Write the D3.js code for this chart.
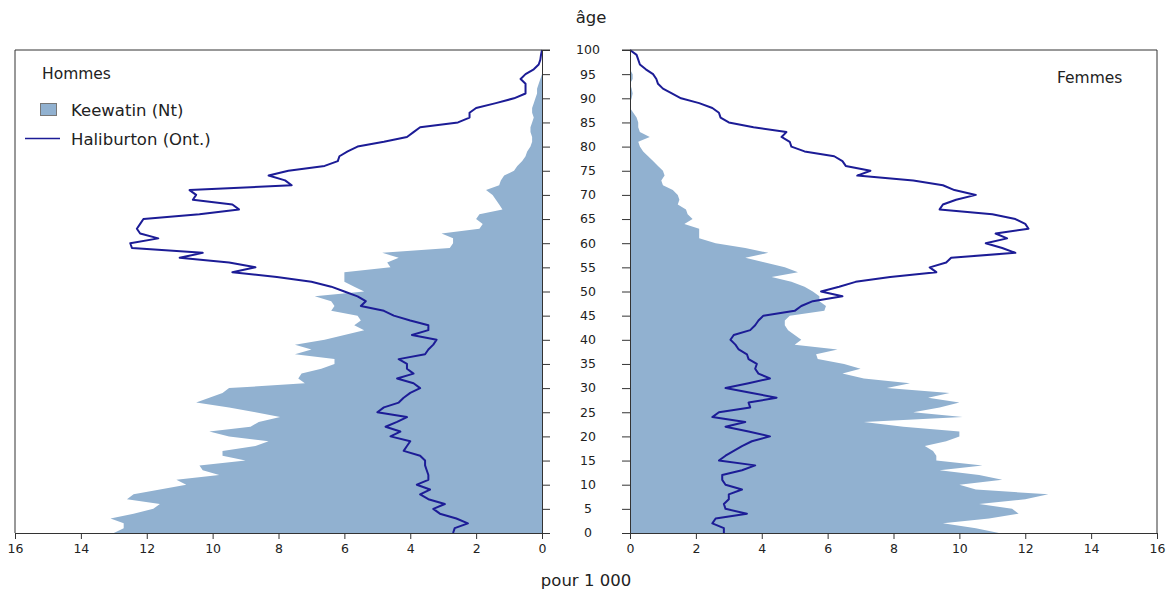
<!DOCTYPE html>
<html><head><meta charset="utf-8">
<script src="https://cdn.jsdelivr.net/npm/d3@7"></script>
<style>
body{margin:0;background:#fff;}
svg{display:block;font-family:"DejaVu Sans",Verdana,sans-serif;}
</style></head>
<body>
<svg id="c" width="1167" height="590"></svg>
<script>
// Ages 0..100, values per 1 000
const ages = d3.range(0, 101);
const ageTicks = d3.range(0, 101, 5);
const valueTicks = [0, 2, 4, 6, 8, 10, 12, 14, 16];

const keewatinHommes = [13.0,12.7,12.7,13.1,12.4,11.8,11.6,12.6,12.4,11.6,
 10.8,11.1,9.8,10.3,10.4,9.0,9.7,9.7,8.7,8.3,
 9.5,10.1,8.85,8.6,7.95,8.7,9.5,10.5,10.1,9.7,
 9.5,7.2,7.4,7.3,6.7,6.3,6.3,7.5,7.0,7.5,
 6.6,6.0,5.4,5.7,5.5,5.6,6.4,6.3,6.4,6.9,
 5.4,5.7,6.0,6.0,6.0,4.6,4.7,4.35,4.85,2.8,
 2.7,2.7,3.05,1.9,1.8,2.0,1.9,1.2,1.3,1.4,
 1.5,1.7,1.3,1.25,1.15,0.85,0.75,0.6,0.5,0.45,
 0.35,0.3,0.3,0.35,0.35,0.3,0.25,0.3,0.3,0.25,
 0.2,0.15,0.15,0.1,0.05,0,0,0,0,0,0];

const haliburtonHommes = [2.7,2.65,2.25,2.6,3.1,3.3,2.95,3.45,3.7,3.4,
 3.8,3.45,3.45,3.5,3.55,3.55,3.7,4.2,4.1,4.0,
 4.6,4.3,4.75,4.4,4.1,5.0,4.8,4.35,4.2,4.0,
 3.7,3.9,4.4,3.9,4.1,4.1,4.35,3.55,3.45,3.3,
 3.2,3.95,3.45,3.45,4.0,4.5,4.8,5.5,5.35,5.6,
 6.0,6.4,7.0,8.05,9.4,8.7,9.5,11.0,10.3,12.45,
 12.5,11.65,12.2,12.3,12.2,12.1,10.4,9.2,9.4,10.6,
 10.5,10.7,7.6,7.8,8.3,7.7,6.6,6.2,6.15,5.9,
 5.6,4.8,4.1,3.9,3.7,2.55,2.2,2.2,2.0,1.4,
 0.85,0.5,0.5,0.5,0.65,0.5,0.25,0.1,0.05,0.03,0];

const keewatinFemmes = [11.2,10.5,9.5,10.9,11.8,11.6,10.6,12.0,12.7,10.5,
 10.0,11.3,10.6,9.4,10.7,9.3,9.3,9.2,8.95,9.6,
 10.0,10.0,8.3,7.1,10.1,8.6,9.4,10.0,9.05,9.7,
 7.8,8.5,7.1,6.45,7.0,6.5,5.7,5.65,6.3,5.0,
 5.2,5.0,4.8,4.7,4.7,4.85,5.9,5.95,5.75,5.75,
 5.55,5.3,4.9,4.3,5.1,4.7,4.1,3.5,4.2,3.5,
 2.6,2.1,2.1,2.1,1.65,1.9,1.75,1.7,1.45,1.5,
 1.45,1.3,1.0,0.95,1.05,1.0,0.85,0.7,0.55,0.4,
 0.3,0.25,0.6,0.3,0.25,0.25,0.2,0.1,0,0,
 0.05,0.08,0.05,0,0.08,0.08,0,0,0,0,0];

const haliburtonFemmes = [2.85,2.85,2.5,2.6,3.55,2.9,2.85,3.0,3.0,3.4,
 2.9,2.8,2.8,3.4,3.8,2.7,2.9,3.15,3.4,3.7,
 4.25,3.6,2.9,3.5,2.5,2.7,3.65,3.6,4.45,3.7,
 2.9,3.6,4.25,3.9,3.8,3.85,3.6,3.55,3.3,3.2,
 3.05,3.15,3.65,3.8,3.9,4.05,5.0,5.2,5.55,6.45,
 5.8,6.35,6.85,7.9,9.3,9.1,9.6,9.75,11.7,11.3,
 10.8,11.45,11.1,12.1,12.0,11.7,11.0,9.4,9.5,9.9,
 10.5,9.85,9.5,8.6,6.9,7.3,6.55,6.45,6.2,5.3,
 4.9,4.85,4.6,4.75,3.75,3.0,2.75,2.7,2.5,2.1,
 1.55,1.27,1.0,0.85,0.8,0.7,0.48,0.3,0.25,0.2,0];

const fillColor = "#91b1d0";
const lineColor = "#1c1c96";
const textColor = "#222";

const svg = d3.select("#c");
const y = d3.scaleLinear().domain([0, 100]).range([533, 50]);
const xL = d3.scaleLinear().domain([0, 16]).range([542, 15]);
const xR = d3.scaleLinear().domain([0, 16]).range([630, 1157]);

function panel(x, kee, hal) {
  const area = d3.area().y(d => y(d.a)).x0(x(0)).x1(d => x(d.v));
  const line = d3.line().y(d => y(d.a)).x(d => x(d.v));
  svg.append("path").datum(ages.map(a => ({a, v: kee[a]})))
    .attr("d", area).attr("fill", fillColor);
  svg.append("path").datum(ages.map(a => ({a, v: hal[a]})))
    .attr("d", line).attr("fill", "none").attr("stroke", lineColor)
    .attr("stroke-width", 2).attr("stroke-linejoin", "round");
}
panel(xL, keewatinHommes, haliburtonHommes);
panel(xR, keewatinFemmes, haliburtonFemmes);

// frames
const frame = "#333";
svg.append("path").attr("d", `M${xL(0)+8},${y(100)}H${xL(16)}V${y(0)}`)
  .attr("fill","none").attr("stroke",frame).attr("stroke-width",1);
svg.append("path").attr("d", `M${xR(0)-8},${y(100)}H${xR(16)}V${y(0)}`)
  .attr("fill","none").attr("stroke",frame).attr("stroke-width",1);

// vertical age axes
const axL = svg.append("g").attr("transform", `translate(${xL(0)},0)`)
  .call(d3.axisRight(y).tickValues(ageTicks).tickSize(8).tickFormat(""));
const axR = svg.append("g").attr("transform", `translate(${xR(0)},0)`)
  .call(d3.axisLeft(y).tickValues(ageTicks).tickSize(8).tickFormat(""));
[axL, axR].forEach(g => { g.selectAll("path,line").attr("stroke", frame); });

svg.append("g").selectAll("text").data(ageTicks).join("text")
  .attr("x", 588).attr("y", d => y(d)).attr("dy", "0.35em")
  .attr("text-anchor", "middle").attr("font-size", 12.5).attr("fill", textColor)
  .text(d => d);

// bottom axes
const bL = svg.append("g").attr("transform", `translate(0,${y(0)})`)
  .call(d3.axisBottom(xL).tickValues(valueTicks).tickSize(6).tickPadding(5));
const bR = svg.append("g").attr("transform", `translate(0,${y(0)})`)
  .call(d3.axisBottom(xR).tickValues(valueTicks).tickSize(6).tickPadding(5));
[bL, bR].forEach(g => {
  g.selectAll("path,line").attr("stroke", frame);
  g.selectAll("text").attr("font-size", 12.5).attr("fill", textColor)
   .attr("font-family", '"DejaVu Sans",Verdana,sans-serif');
});

// titles
svg.append("text").attr("x", 591).attr("y", 23).attr("text-anchor","middle")
  .attr("font-size", 16.5).attr("fill", textColor).text("âge");
svg.append("text").attr("x", 586).attr("y", 586).attr("text-anchor","middle")
  .attr("font-size", 16.5).attr("fill", textColor).text("pour 1 000");
svg.append("text").attr("x", 42).attr("y", 79)
  .attr("font-size", 15.5).attr("fill", textColor).text("Hommes");
svg.append("text").attr("x", 1057).attr("y", 83)
  .attr("font-size", 15.5).attr("fill", textColor).text("Femmes");

// legend
svg.append("rect").attr("x", 40.5).attr("y", 103.5).attr("width", 16).attr("height", 12)
  .attr("fill", fillColor).attr("stroke", "#777");
svg.append("text").attr("x", 71).attr("y", 115.5)
  .attr("font-size", 16.5).attr("fill", textColor).text("Keewatin (Nt)");
svg.append("line").attr("x1", 25).attr("x2", 60).attr("y1", 138.5).attr("y2", 138.5)
  .attr("stroke", lineColor).attr("stroke-width", 1.5);
svg.append("text").attr("x", 71).attr("y", 144.5)
  .attr("font-size", 16.5).attr("fill", textColor).text("Haliburton (Ont.)");
</script>
</body></html>
